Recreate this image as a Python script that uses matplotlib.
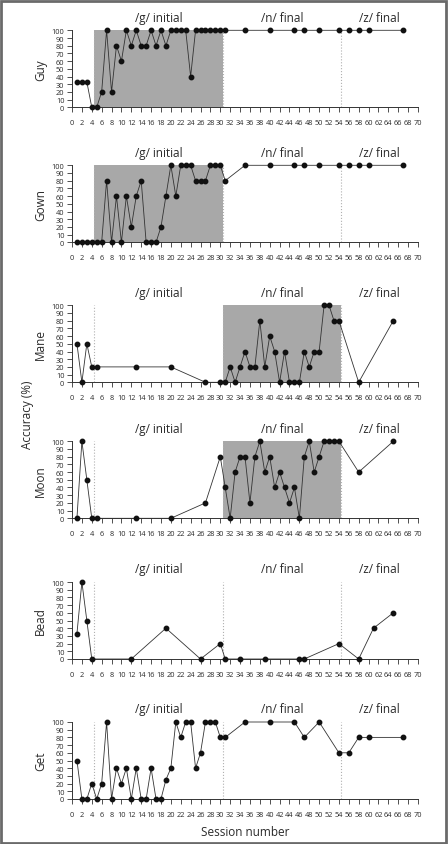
import matplotlib.pyplot as plt
from matplotlib.patches import Rectangle

plt.rcParams['font.family'] = ['Open Sans', 'DejaVu Sans']

# session numbers and accuracy (%) for each word
guy_x = [1, 2, 3, 4, 5, 6, 7, 8, 9, 10, 11, 12, 13, 14, 15, 16, 17, 18, 19, 20,
         21, 22, 23, 24, 25, 26, 27, 28, 29, 30, 31, 35, 40, 45, 47, 50, 54, 56, 58, 60, 67]
guy_y = [33, 33, 33, 0, 0, 20, 100, 20, 80, 60, 100, 80, 100, 80, 80, 100, 80, 100, 80, 100,
         100, 100, 100, 40, 100, 100, 100, 100, 100, 100, 100, 100, 100, 100, 100, 100, 100, 100, 100, 100, 100]

gown_x = guy_x
gown_y = [0, 0, 0, 0, 0, 0, 80, 0, 60, 0, 60, 20, 60, 80, 0, 0, 0, 20, 60, 100,
          60, 100, 100, 100, 80, 80, 80, 100, 100, 100, 80, 100, 100, 100, 100, 100, 100, 100, 100, 100, 100]

mane_x = [1, 2, 3, 4, 5, 13, 20, 27, 30, 31, 32, 33, 34, 35, 36, 37, 38, 39, 40, 41,
          42, 43, 44, 45, 46, 47, 48, 49, 50, 51, 52, 53, 54, 58, 65]
mane_y = [50, 0, 50, 20, 20, 20, 20, 0, 0, 0, 20, 0, 20, 40, 20, 20, 80, 20, 60, 40,
          0, 40, 0, 0, 0, 40, 20, 40, 40, 100, 100, 80, 80, 0, 80]

moon_x = mane_x
moon_y = [0, 100, 50, 0, 0, 0, 0, 20, 80, 40, 0, 60, 80, 80, 20, 80, 100, 60, 80, 40,
          60, 40, 20, 40, 0, 80, 100, 60, 80, 100, 100, 100, 100, 60, 100]

bead_x = [1, 2, 3, 4, 12, 19, 26, 30, 31, 34, 39, 46, 47, 54, 58, 61, 65]
bead_y = [33, 100, 50, 0, 0, 40, 0, 20, 0, 0, 0, 0, 0, 20, 0, 40, 60]

get_x = guy_x
get_y = [50, 0, 0, 20, 0, 20, 100, 0, 40, 20, 40, 0, 40, 0, 0, 40, 0, 0, 25, 40,
         100, 80, 100, 100, 40, 60, 100, 100, 100, 80, 80, 100, 100, 100, 80, 100, 60, 60, 80, 80, 80]

words = ['Guy', 'Gown', 'Mane', 'Moon', 'Bead', 'Get']
series = [(guy_x, guy_y), (gown_x, gown_y), (mane_x, mane_y),
          (moon_x, moon_y), (bead_x, bead_y), (get_x, get_y)]
# treatment phase shaded in each panel (None = no shading)
shaded = [(4.5, 30.5), (4.5, 30.5), (30.5, 54.5), (30.5, 54.5), None, None]

phase_edges = [4.5, 30.5, 54.5]
phase_names = ['/g/ initial', '/n/ final', '/z/ final']
phase_centers = [17.5, 42.5, 62.25]

W, H = 448, 845
fig = plt.figure(figsize=(W / 100, H / 100), dpi=100)

bottoms_px = [108.3, 243.3, 383.3, 519.3, 660, 800]
left, width = 72 / W, 346 / W
height = 77 / H

for i, (word, (xs, ys)) in enumerate(zip(words, series)):
    ax = fig.add_axes([left, 1 - bottoms_px[i] / H, width, height])
    ax.set_xlim(0, 70)
    ax.set_ylim(0, 100)

    if shaded[i] is not None:
        ax.fill_between(shaded[i], 0, 100, color='#a8a8a8', lw=0, zorder=0)
    for xe in phase_edges:
        ax.plot([xe, xe], [0, 100], ls=':', color='#b0b0b0', lw=0.8, zorder=1)
    for name, xc in zip(phase_names, phase_centers):
        ax.text(xc, 1.17, name, transform=ax.get_xaxis_transform(),
                ha='center', va='center', fontsize=8.5, color='#2a2a2a')

    ax.plot(xs, ys, color='#333333', lw=0.6, marker='o', ms=3.2,
            mfc='#111111', mec='#111111', clip_on=False, zorder=3)

    for s in ['top', 'right']:
        ax.spines[s].set_visible(False)
    for s in ['left', 'bottom']:
        ax.spines[s].set_color('#333333')
        ax.spines[s].set_linewidth(0.7)

    ax.set_xticks(range(0, 71, 2))
    ax.set_yticks(range(0, 101, 10))
    ax.tick_params(labelsize=5.3, length=3.5, width=0.6, color='#333333',
                   labelcolor='#2a2a2a', pad=5)
    ax.tick_params(axis='y', pad=2)

    ax.set_ylabel(word, fontsize=8.5, color='#2a2a2a')
    ax.yaxis.set_label_coords(-0.072, 0.5)

    if i == len(words) - 1:
        ax.set_xlabel('Session number', fontsize=8.5, color='#2a2a2a', labelpad=5)

fig.text(28 / W, 1 - 415 / H, 'Accuracy (%)', rotation=90, ha='center',
         va='center', fontsize=8.5, color='#2a2a2a')

# grey frame around the whole figure
fig.add_artist(Rectangle((0.002, 0.001), 0.994, 0.997, transform=fig.transFigure,
                         fill=False, edgecolor='#6a6a6a', lw=2))

fig.savefig('out.png', dpi=100)
